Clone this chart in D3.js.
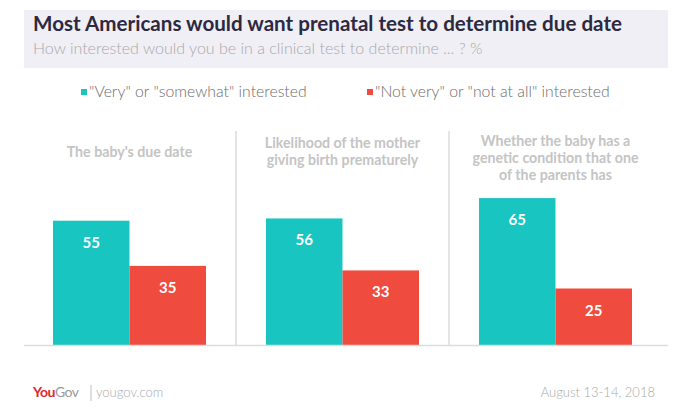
<!DOCTYPE html>
<html>
<head>
<meta charset="utf-8">
<script src="https://cdn.jsdelivr.net/npm/d3@7"></script>
<style>
  body { margin: 0; background: #fff; }
  text { font-family: Lato, "Open Sans", sans-serif; }
</style>
</head>
<body>
<div id="chart-area"></div>
<script>
var questions = [
    ["The baby's due date"],
    ["Likelihood of the mother", "giving birth prematurely"],
    ["Whether the baby has a", "genetic condition that one", "of the parents has"]
];
var seriesNames = ['"Very" or "somewhat" interested', '"Not very" or "not at all" interested'];
var interested = [55, 56, 65];
var notInterested = [35, 33, 25];
var colors = ["#19c5c1", "#f04b3f"];

var width = 690;
var height = 414;

var svg = d3.select('#chart-area')
.append('svg')
.attr('width', width)
.attr('height', height);

// header box
svg.append('rect')
.attr('x', 24).attr('y', 10)
.attr('width', 644).attr('height', 58)
.attr('fill', '#f0eff5');

svg.append('text')
.attr('x', 33).attr('y', 31)
.attr('font-size', '20.6px')
.attr('font-weight', 'bold')
.attr('fill', '#2c2940')
.text('Most Americans would want prenatal test to determine due date');

svg.append('text')
.attr('x', 33).attr('y', 54)
.attr('font-size', '16px')
.attr('font-weight', 300)
.attr('fill', '#a9a9ab')
.text('How interested would you be in a clinical test to determine ... ? %');

// legend
var legendX = [81, 367];
seriesNames.forEach((name, i) => {
    svg.append('rect')
    .attr('x', legendX[i]).attr('y', 89)
    .attr('width', 6).attr('height', 6)
    .attr('fill', colors[i]);
    svg.append('text')
    .attr('x', legendX[i] + 8).attr('y', 97)
    .attr('font-size', '15.8px')
    .attr('font-weight', 300)
    .attr('fill', '#6b6b6b')
    .text(name);
});

// panels
var x0 = d3.scaleBand()
.domain(d3.range(questions.length))
.range([23, 662]);

var x1 = d3.scaleBand()
.domain([0, 1])
.range([30, x0.bandwidth() - 30]);

var y = d3.scaleLinear()
.domain([0, 100])
.range([345, 119]);

var panels = svg.selectAll('g.panel')
.data(questions)
.enter()
.append('g')
.attr('class', 'panel')
.attr('transform', (d, i) => 'translate(' + x0(i) + ',0)');

// dividers
panels.filter((d, i) => i > 0)
.append('line')
.attr('x1', 0).attr('x2', 0)
.attr('y1', 131).attr('y2', 346)
.attr('stroke', '#dcdcdc')
.attr('stroke-width', 1.5);

// question labels
panels.each(function (lines) {
    var g = d3.select(this);
    var top = lines.length == 1 ? 157 : (lines.length == 2 ? 148 : 146);
    lines.forEach((line, j) => {
        g.append('text')
        .attr('x', x0.bandwidth() / 2)
        .attr('y', top + j * 17)
        .attr('text-anchor', 'middle')
        .attr('font-size', '14.2px')
        .attr('font-weight', 'bold')
        .attr('fill', '#c4c4c4')
        .text(line);
    });
});

// bars
panels.each(function (d, i) {
    var g = d3.select(this);
    var vals = [interested[i], notInterested[i]];
    vals.forEach((v, k) => {
        g.append('rect')
        .attr('x', x1(k))
        .attr('y', y(v))
        .attr('width', x1.bandwidth())
        .attr('height', y(0) - y(v))
        .attr('fill', colors[k]);
        g.append('text')
        .attr('x', x1(k) + x1.bandwidth() / 2)
        .attr('y', y(v) + 27)
        .attr('text-anchor', 'middle')
        .attr('font-size', '15px')
        .attr('font-weight', 'bold')
        .attr('fill', '#fff')
        .text(v);
    });
});

// baseline
svg.append('line')
.attr('x1', 24).attr('x2', 668)
.attr('y1', y(0) + 0.5).attr('y2', y(0) + 0.5)
.attr('stroke', '#dcdcdc')
.attr('stroke-width', 1.5);

// footer
var logo = svg.append('text')
.attr('x', 33).attr('y', 397)
.attr('font-size', '14px')
.attr('font-weight', 'bold')
.attr('letter-spacing', '-0.5px');
logo.append('tspan').attr('fill', '#e0272c').text('You');
logo.append('tspan').attr('fill', '#9a9a9a').attr('font-weight', 'normal').text('Gov');

svg.append('line')
.attr('x1', 91).attr('x2', 91)
.attr('y1', 385).attr('y2', 401)
.attr('stroke', '#bdbdbd');

svg.append('text')
.attr('x', 96).attr('y', 397)
.attr('font-size', '13px')
.attr('font-weight', 300)
.attr('fill', '#a9a9a9')
.text('yougov.com');

svg.append('text')
.attr('x', 655).attr('y', 397)
.attr('text-anchor', 'end')
.attr('font-size', '13px')
.attr('font-weight', 300)
.attr('fill', '#a9a9a9')
.text('August 13-14, 2018');
</script>
</body>
</html>
